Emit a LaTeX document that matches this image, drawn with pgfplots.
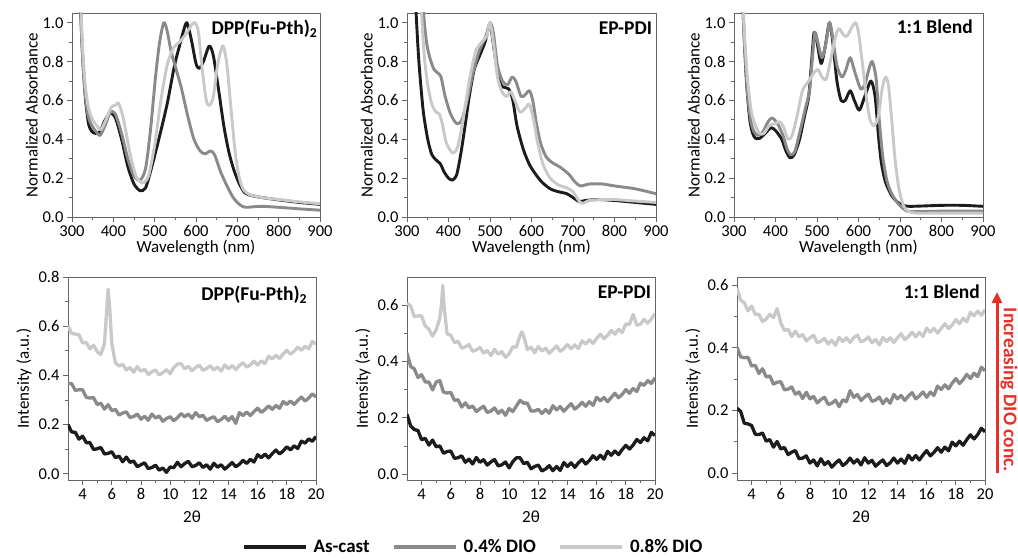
\documentclass[border=0pt]{standalone}
\usepackage{fontspec}
\setmainfont{Carlito}
\usepackage{pgfplots}
\pgfplotsset{compat=1.18}
\usetikzlibrary{arrows.meta}

\definecolor{ascast}{HTML}{1C1C1C}
\definecolor{dioA}{HTML}{8A8A8A}
\definecolor{dioB}{HTML}{C9C9C9}
\definecolor{arrowred}{HTML}{E8302A}

\newcommand{\tickfont}{\fontsize{16.5}{19}\selectfont}
\newcommand{\labfont}{\fontsize{17}{20}\selectfont}
\newcommand{\titfont}{\bfseries\fontsize{19.5}{22}\selectfont}

\pgfplotsset{
  panel/.style={
    scale only axis,
    anchor=south west,
    axis line style={draw=black!60, line width=0.9pt},
    tick align=outside,
    tick pos=left,
    major tick length=5pt,
    minor tick length=3pt,
    every tick/.style={draw=black!60, line width=0.8pt},
    minor x tick num=1,
    minor y tick num=1,
    tick label style={font=\tickfont},
    label style={font=\labfont},
    /pgf/number format/assume math mode=true,
    yticklabel style={/pgf/number format/.cd, fixed, fixed zerofill, precision=1},
    no markers,
    every axis plot/.append style={line join=round},
  },
  uv/.style={
    panel,
    width=248pt, height=204pt,
    xmin=300, xmax=900, ymin=0, ymax=1.05,
    xtick={300,400,...,900},
    ytick={0,0.2,...,1.0},
    xlabel={Wavelength (nm)},
    ylabel={Normalized Absorbance},
    xlabel style={yshift=4pt},
    ylabel style={yshift=-2pt},
    xticklabel style={/pgf/number format/.cd, fixed, precision=0, 1000 sep={}},
    every axis plot/.append style={line width=2.9pt, smooth, tension=0.45},
  },
  xrd/.style={
    panel,
    width=248pt, height=203pt,
    xmin=3, xmax=20,
    xtick={4,6,...,20},
    xlabel={2θ},
    ylabel={Intensity (a.u.)},
    xlabel style={yshift=-4pt},
    xticklabel style={/pgf/number format/.cd, fixed, precision=0},
    every axis plot/.append style={line width=3.3pt},
  },
}

\begin{document}
\begin{tikzpicture}
\useasboundingbox (0pt,0pt) rectangle (1018pt,558pt);

% ---------------- UV-vis: DPP(Fu-Pth)2 ----------------
\begin{axis}[uv, at={(72pt,341pt)}]
\addplot[ascast] coordinates {(318,1.3) (322,1.0) (327,0.78) (333,0.6) (340,0.48) (348,0.44) (358,0.43) (368,0.44) (378,0.49) (392,0.535) (405,0.51) (420,0.4) (435,0.26) (450,0.17) (465,0.135) (478,0.15) (492,0.25) (510,0.4) (530,0.58) (548,0.78) (560,0.88) (570,0.96) (578,1.0) (588,0.92) (600,0.79) (608,0.765) (618,0.8) (632,0.88) (642,0.83) (655,0.65) (668,0.46) (680,0.33) (692,0.24) (705,0.17) (718,0.125) (735,0.11) (760,0.1) (800,0.088) (850,0.075) (900,0.065)};
\addplot[dioA] coordinates {(318,1.3) (324,0.9) (330,0.68) (338,0.53) (348,0.47) (358,0.44) (368,0.42) (380,0.47) (393,0.54) (405,0.53) (420,0.43) (435,0.3) (450,0.21) (465,0.19) (478,0.25) (490,0.45) (502,0.72) (512,0.9) (522,1.0) (530,0.96) (540,0.85) (552,0.76) (565,0.66) (580,0.52) (595,0.4) (610,0.34) (622,0.325) (635,0.34) (645,0.32) (660,0.23) (675,0.16) (690,0.1) (705,0.065) (718,0.05) (735,0.052) (760,0.055) (800,0.05) (850,0.042) (900,0.035)};
\addplot[dioB] coordinates {(318,1.3) (325,0.9) (332,0.68) (340,0.56) (350,0.5) (360,0.47) (370,0.45) (382,0.5) (395,0.565) (405,0.575) (413,0.585) (425,0.5) (440,0.33) (455,0.21) (470,0.175) (485,0.21) (500,0.37) (515,0.6) (530,0.78) (545,0.87) (560,0.9) (575,0.94) (590,0.99) (598,1.0) (606,0.95) (615,0.76) (625,0.6) (633,0.575) (642,0.62) (652,0.78) (662,0.87) (667,0.875) (675,0.78) (685,0.55) (695,0.33) (705,0.2) (715,0.14) (730,0.115) (760,0.1) (800,0.09) (850,0.078) (900,0.068)};
\node[anchor=north east, inner sep=0pt, font=\titfont] at (rel axis cs:0.99,0.965) {DPP(Fu-Pth)\textsubscript{2}};
\end{axis}

% ---------------- UV-vis: EP-PDI ----------------
\begin{axis}[uv, at={(407pt,341pt)}, width=249pt]
\addplot[ascast] coordinates {(318,1.3) (322,1.05) (328,0.82) (334,0.66) (340,0.53) (350,0.4) (360,0.32) (372,0.29) (380,0.275) (390,0.23) (400,0.2) (410,0.19) (420,0.22) (430,0.33) (440,0.47) (450,0.62) (462,0.76) (475,0.83) (488,0.9) (500,0.99) (510,0.86) (520,0.72) (530,0.67) (545,0.66) (555,0.6) (565,0.47) (580,0.35) (595,0.27) (610,0.22) (625,0.18) (645,0.145) (665,0.13) (685,0.12) (700,0.1) (715,0.08) (730,0.085) (760,0.09) (800,0.085) (850,0.075) (900,0.065)};
\addplot[dioA] coordinates {(335,1.3) (340,1.05) (347,0.9) (355,0.82) (365,0.76) (375,0.74) (382,0.72) (392,0.62) (405,0.53) (420,0.48) (432,0.5) (445,0.6) (460,0.75) (475,0.86) (490,0.93) (500,1.0) (508,0.95) (518,0.78) (530,0.7) (542,0.68) (553,0.72) (562,0.7) (575,0.62) (585,0.63) (595,0.65) (603,0.6) (612,0.48) (622,0.38) (635,0.31) (650,0.28) (670,0.255) (690,0.22) (705,0.18) (718,0.16) (740,0.17) (770,0.17) (800,0.16) (850,0.145) (900,0.12)};
\addplot[dioB] coordinates {(330,1.3) (335,1.05) (342,0.82) (350,0.68) (360,0.58) (370,0.54) (378,0.53) (385,0.48) (395,0.38) (410,0.33) (422,0.36) (435,0.5) (450,0.7) (465,0.85) (480,0.9) (492,0.93) (500,1.0) (508,0.9) (518,0.72) (530,0.64) (540,0.62) (550,0.645) (560,0.6) (572,0.54) (585,0.56) (595,0.58) (605,0.5) (615,0.38) (628,0.27) (645,0.2) (665,0.165) (685,0.15) (700,0.13) (712,0.09) (722,0.07) (740,0.085) (770,0.09) (800,0.09) (850,0.082) (900,0.075)};
\node[anchor=north east, inner sep=0pt, font=\titfont] at (rel axis cs:0.985,0.96) {EP-PDI};
\end{axis}

% ---------------- UV-vis: 1:1 Blend ----------------
\begin{axis}[uv, at={(734pt,341pt)}, width=249pt]
\addplot[ascast] coordinates {(318,1.3) (323,1.0) (330,0.7) (338,0.5) (345,0.43) (352,0.405) (362,0.405) (375,0.43) (390,0.46) (402,0.44) (415,0.4) (425,0.34) (435,0.305) (445,0.32) (458,0.4) (470,0.52) (480,0.62) (487,0.8) (493,0.95) (500,0.9) (510,0.79) (520,0.88) (530,1.0) (538,0.9) (548,0.7) (558,0.6) (568,0.6) (580,0.65) (590,0.6) (602,0.55) (615,0.62) (630,0.7) (640,0.62) (648,0.42) (655,0.28) (665,0.18) (680,0.11) (695,0.075) (710,0.058) (730,0.055) (800,0.06) (850,0.06) (900,0.055)};
\addplot[dioA] coordinates {(318,1.3) (324,0.95) (332,0.65) (340,0.5) (348,0.44) (358,0.42) (370,0.44) (382,0.49) (392,0.51) (405,0.48) (418,0.42) (428,0.35) (437,0.32) (447,0.34) (460,0.45) (472,0.56) (482,0.65) (489,0.82) (495,0.95) (502,0.9) (512,0.82) (522,0.9) (530,1.0) (538,0.92) (548,0.78) (560,0.72) (570,0.76) (580,0.82) (592,0.74) (605,0.66) (615,0.68) (625,0.76) (633,0.8) (642,0.72) (650,0.5) (658,0.32) (668,0.19) (680,0.12) (695,0.07) (710,0.04) (725,0.028) (800,0.03) (900,0.03)};
\addplot[dioB] coordinates {(318,1.3) (325,0.95) (333,0.7) (342,0.54) (352,0.47) (362,0.43) (372,0.43) (385,0.47) (398,0.48) (410,0.49) (420,0.46) (430,0.4) (440,0.42) (452,0.52) (465,0.65) (480,0.7) (492,0.74) (502,0.76) (512,0.72) (522,0.71) (532,0.8) (545,0.93) (553,0.97) (563,0.94) (572,0.93) (585,0.98) (593,1.0) (600,0.95) (610,0.78) (620,0.6) (628,0.5) (638,0.47) (648,0.52) (657,0.66) (665,0.72) (672,0.68) (680,0.5) (688,0.3) (697,0.15) (708,0.06) (720,0.03) (740,0.02) (800,0.02) (900,0.02)};
\node[anchor=north east, inner sep=0pt, font=\titfont] at (rel axis cs:0.96,0.97) {1:1 Blend};
\end{axis}

% ---------------- XRD: DPP(Fu-Pth)2 ----------------
\begin{axis}[xrd, at={(68pt,78pt)}, ymin=-0.025, ymax=0.8, ytick={0,0.2,...,0.8}]
\addplot[ascast] coordinates {(3.00,0.200) (3.25,0.170) (3.50,0.169) (3.75,0.141) (4.00,0.153) (4.25,0.127) (4.50,0.127) (4.75,0.099) (5.00,0.102) (5.25,0.107) (5.50,0.081) (5.75,0.083) (6.00,0.090) (6.25,0.066) (6.50,0.072) (6.75,0.049) (7.00,0.068) (7.25,0.047) (7.50,0.052) (7.75,0.029) (8.00,0.037) (8.25,0.045) (8.50,0.021) (8.75,0.026) (9.00,0.035) (9.25,0.015) (9.50,0.024) (9.75,0.006) (10.00,0.028) (10.25,0.025) (10.50,0.047) (10.75,0.029) (11.00,0.042) (11.25,0.051) (11.50,0.029) (11.75,0.034) (12.00,0.045) (12.25,0.026) (12.50,0.037) (12.75,0.019) (13.00,0.043) (13.25,0.027) (13.50,0.037) (13.75,0.019) (14.00,0.032) (14.25,0.046) (14.50,0.029) (14.75,0.039) (15.00,0.055) (15.25,0.042) (15.50,0.059) (15.75,0.048) (16.00,0.078) (16.25,0.066) (16.50,0.080) (16.75,0.065) (17.00,0.082) (17.25,0.097) (17.50,0.081) (17.75,0.093) (18.00,0.110) (18.25,0.097) (18.50,0.114) (18.75,0.103) (19.00,0.133) (19.25,0.125) (19.50,0.142) (19.75,0.132) (20.00,0.152)};
\addplot[dioA] coordinates {(3.00,0.367) (3.25,0.367) (3.50,0.339) (3.75,0.342) (4.00,0.342) (4.25,0.311) (4.50,0.308) (4.75,0.310) (5.00,0.282) (5.25,0.287) (5.50,0.263) (5.75,0.281) (6.00,0.257) (6.25,0.262) (6.50,0.239) (6.75,0.247) (7.00,0.252) (7.25,0.229) (7.50,0.233) (7.75,0.243) (8.00,0.222) (8.25,0.234) (8.50,0.218) (8.75,0.243) (9.00,0.227) (9.25,0.235) (9.50,0.214) (9.75,0.225) (10.00,0.232) (10.25,0.216) (10.50,0.228) (10.75,0.245) (11.00,0.232) (11.25,0.243) (11.50,0.226) (11.75,0.249) (12.00,0.232) (12.25,0.238) (12.50,0.217) (12.75,0.226) (13.00,0.232) (13.25,0.212) (13.50,0.221) (13.75,0.234) (14.00,0.217) (14.25,0.233) (14.50,0.205) (14.75,0.249) (15.00,0.237) (15.25,0.251) (15.50,0.237) (15.75,0.253) (16.00,0.267) (16.25,0.250) (16.50,0.261) (16.75,0.276) (17.00,0.262) (17.25,0.278) (17.50,0.266) (17.75,0.294) (18.00,0.282) (18.25,0.296) (18.50,0.282) (18.75,0.298) (19.00,0.312) (19.25,0.296) (19.50,0.308) (19.75,0.325) (20.00,0.312)};
\addplot[dioB] coordinates {(3.00,0.602) (3.25,0.571) (3.50,0.568) (3.75,0.565) (4.00,0.532) (4.25,0.534) (4.50,0.508) (4.75,0.523) (5.00,0.497) (5.25,0.485) (5.50,0.530) (5.625,0.640) (5.75,0.750) (5.875,0.660) (6.00,0.530) (6.25,0.451) (6.50,0.438) (6.75,0.445) (7.00,0.422) (7.25,0.432) (7.50,0.413) (7.75,0.436) (8.00,0.417) (8.25,0.425) (8.50,0.404) (8.75,0.415) (9.00,0.422) (9.25,0.402) (9.50,0.411) (9.75,0.424) (10.00,0.407) (10.25,0.432) (10.50,0.446) (10.75,0.448) (11.00,0.427) (11.25,0.437) (11.50,0.419) (11.75,0.432) (12.00,0.442) (12.25,0.421) (12.50,0.428) (12.75,0.440) (13.00,0.422) (13.25,0.434) (13.50,0.418) (13.75,0.443) (14.00,0.427) (14.25,0.440) (14.50,0.424) (14.75,0.440) (15.00,0.452) (15.25,0.434) (15.50,0.443) (15.75,0.458) (16.00,0.442) (16.25,0.459) (16.50,0.448) (16.75,0.478) (17.00,0.467) (17.25,0.482) (17.50,0.469) (17.75,0.487) (18.00,0.502) (18.25,0.486) (18.50,0.498) (18.75,0.515) (19.00,0.502) (19.25,0.519) (19.50,0.508) (19.75,0.538) (20.00,0.527)};
\node[anchor=north east, inner sep=0pt, font=\titfont] at (rel axis cs:0.965,0.955) {DPP(Fu-Pth)\textsubscript{2}};
\end{axis}

% ---------------- XRD: EP-PDI ----------------
\begin{axis}[xrd, at={(407pt,78pt)}, ymin=-0.021, ymax=0.70, ytick={0,0.2,...,0.6},
  legend style={at={(0.266,-0.33)}, anchor=center, draw=none, fill=none,
    legend columns=3, font=\bfseries\fontsize{19}{22}\selectfont,
    /tikz/every odd column/.append style={column sep=4pt},
    /tikz/every even column/.append style={column sep=20pt}},
  legend image code/.code={\draw[#1, line width=4pt] (0pt,0pt) -- (62pt,0pt);}]
\addplot[ascast] coordinates {(3.00,0.212) (3.25,0.171) (3.50,0.158) (3.75,0.155) (4.00,0.122) (4.25,0.127) (4.50,0.103) (4.75,0.121) (5.00,0.097) (5.25,0.100) (5.50,0.074) (5.75,0.080) (6.00,0.082) (6.25,0.056) (6.50,0.058) (6.75,0.065) (7.00,0.042) (7.25,0.053) (7.50,0.036) (7.75,0.059) (8.00,0.042) (8.25,0.051) (8.50,0.032) (8.75,0.043) (9.00,0.052) (9.25,0.029) (9.50,0.033) (9.75,0.043) (10.00,0.022) (10.25,0.044) (10.50,0.058) (10.75,0.058) (11.00,0.037) (11.25,0.042) (11.50,0.019) (11.75,0.027) (12.00,0.032) (12.25,0.011) (12.50,0.018) (12.75,0.030) (13.00,0.012) (13.25,0.027) (13.50,0.013) (13.75,0.041) (14.00,0.027) (14.25,0.040) (14.50,0.024) (14.75,0.040) (15.00,0.052) (15.25,0.036) (15.50,0.048) (15.75,0.065) (16.00,0.052) (16.25,0.067) (16.50,0.053) (16.75,0.081) (17.00,0.067) (17.25,0.082) (17.50,0.069) (17.75,0.087) (18.00,0.102) (18.25,0.089) (18.50,0.103) (18.75,0.123) (19.00,0.112) (19.25,0.129) (19.50,0.118) (19.75,0.148) (20.00,0.137)};
\addlegendentry{As-cast}
\addplot[dioA] coordinates {(3.00,0.430) (3.25,0.382) (3.50,0.374) (3.75,0.343) (4.00,0.353) (4.25,0.327) (4.50,0.327) (4.75,0.299) (5.00,0.327) (5.25,0.332) (5.50,0.291) (5.75,0.288) (6.00,0.290) (6.25,0.262) (6.50,0.264) (6.75,0.238) (7.00,0.253) (7.25,0.235) (7.50,0.242) (7.75,0.222) (8.00,0.232) (8.25,0.241) (8.50,0.219) (8.75,0.224) (9.00,0.235) (9.25,0.216) (9.50,0.227) (9.75,0.209) (10.00,0.233) (10.25,0.222) (10.50,0.242) (10.75,0.262) (11.00,0.252) (11.25,0.252) (11.50,0.224) (11.75,0.224) (12.00,0.230) (12.25,0.215) (12.50,0.229) (12.75,0.216) (13.00,0.243) (13.25,0.228) (13.50,0.240) (13.75,0.223) (14.00,0.237) (14.25,0.250) (14.50,0.231) (14.75,0.241) (15.00,0.255) (15.25,0.241) (15.50,0.257) (15.75,0.244) (16.00,0.273) (16.25,0.260) (16.50,0.272) (16.75,0.257) (17.00,0.272) (17.25,0.287) (17.50,0.271) (17.75,0.283) (18.00,0.300) (18.25,0.287) (18.50,0.304) (18.75,0.293) (19.00,0.323) (19.25,0.315) (19.50,0.332) (19.75,0.322) (20.00,0.342)};
\addlegendentry{0.4\% DIO}
\addplot[dioB] coordinates {(3.00,0.607) (3.25,0.597) (3.50,0.559) (3.75,0.562) (4.00,0.562) (4.25,0.526) (4.50,0.515) (4.75,0.490) (5.00,0.512) (5.25,0.554) (5.375,0.610) (5.45,0.670) (5.55,0.590) (5.75,0.498) (6.00,0.493) (6.25,0.467) (6.50,0.472) (6.75,0.447) (7.00,0.452) (7.25,0.460) (7.50,0.436) (7.75,0.441) (8.00,0.450) (8.25,0.430) (8.50,0.439) (8.75,0.421) (9.00,0.443) (9.25,0.426) (9.50,0.435) (9.75,0.415) (10.00,0.427) (10.25,0.452) (10.50,0.451) (10.75,0.493) (10.875,0.505) (11.00,0.490) (11.25,0.442) (11.50,0.451) (11.75,0.431) (12.00,0.453) (12.25,0.437) (12.50,0.447) (12.75,0.429) (13.00,0.442) (13.25,0.455) (13.50,0.436) (13.75,0.446) (14.00,0.460) (14.25,0.445) (14.50,0.459) (14.75,0.446) (15.00,0.473) (15.25,0.462) (15.50,0.477) (15.75,0.464) (16.00,0.482) (16.25,0.497) (16.50,0.481) (16.75,0.493) (17.00,0.510) (17.25,0.497) (17.50,0.514) (17.75,0.503) (18.00,0.533) (18.25,0.532) (18.50,0.567) (18.75,0.529) (19.00,0.532) (19.25,0.550) (19.50,0.536) (19.75,0.551) (20.00,0.570)};
\addlegendentry{0.8\% DIO}
\node[anchor=north east, inner sep=0pt, font=\titfont] at (rel axis cs:0.985,0.955) {EP-PDI};
\end{axis}

% ---------------- XRD: 1:1 Blend ----------------
\begin{axis}[xrd, at={(737pt,78pt)}, ymin=-0.022, ymax=0.626, ytick={0,0.2,...,0.6}]
\addplot[ascast] coordinates {(3.00,0.207) (3.25,0.197) (3.50,0.159) (3.75,0.157) (4.00,0.152) (4.25,0.124) (4.50,0.123) (4.75,0.128) (5.00,0.102) (5.25,0.107) (5.50,0.083) (5.75,0.101) (6.00,0.077) (6.25,0.082) (6.50,0.059) (6.75,0.067) (7.00,0.072) (7.25,0.046) (7.50,0.048) (7.75,0.055) (8.00,0.032) (8.25,0.042) (8.50,0.023) (8.75,0.046) (9.00,0.027) (9.25,0.037) (9.50,0.019) (9.75,0.032) (10.00,0.042) (10.25,0.024) (10.50,0.033) (10.75,0.048) (11.00,0.032) (11.25,0.043) (11.50,0.026) (11.75,0.049) (12.00,0.032) (12.25,0.041) (12.50,0.022) (12.75,0.033) (13.00,0.042) (13.25,0.024) (13.50,0.033) (13.75,0.048) (14.00,0.032) (14.25,0.045) (14.50,0.031) (14.75,0.057) (15.00,0.042) (15.25,0.056) (15.50,0.042) (15.75,0.058) (16.00,0.072) (16.25,0.055) (16.50,0.066) (16.75,0.081) (17.00,0.067) (17.25,0.083) (17.50,0.071) (17.75,0.099) (18.00,0.087) (18.25,0.102) (18.50,0.089) (18.75,0.107) (19.00,0.122) (19.25,0.109) (19.50,0.123) (19.75,0.143) (20.00,0.132)};
\addplot[dioA] coordinates {(3.00,0.402) (3.25,0.371) (3.50,0.368) (3.75,0.370) (4.00,0.342) (4.25,0.344) (4.50,0.318) (4.75,0.333) (5.00,0.307) (5.25,0.310) (5.50,0.284) (5.75,0.290) (6.00,0.292) (6.25,0.266) (6.50,0.268) (6.75,0.275) (7.00,0.252) (7.25,0.259) (7.50,0.238) (7.75,0.258) (8.00,0.237) (8.25,0.245) (8.50,0.224) (8.75,0.235) (9.00,0.242) (9.25,0.219) (9.50,0.223) (9.75,0.233) (10.00,0.212) (10.25,0.234) (10.50,0.228) (10.75,0.263) (11.00,0.242) (11.25,0.251) (11.50,0.232) (11.75,0.243) (12.00,0.252) (12.25,0.229) (12.50,0.233) (12.75,0.243) (13.00,0.222) (13.25,0.237) (13.50,0.223) (13.75,0.251) (14.00,0.237) (14.25,0.248) (14.50,0.232) (14.75,0.246) (15.00,0.257) (15.25,0.237) (15.50,0.246) (15.75,0.259) (16.00,0.242) (16.25,0.259) (16.50,0.248) (16.75,0.278) (17.00,0.267) (17.25,0.282) (17.50,0.269) (17.75,0.287) (18.00,0.302) (18.25,0.286) (18.50,0.298) (18.75,0.315) (19.00,0.302) (19.25,0.319) (19.50,0.308) (19.75,0.338) (20.00,0.327)};
\addplot[dioB] coordinates {(3.00,0.590) (3.25,0.552) (3.50,0.544) (3.75,0.518) (4.00,0.533) (4.25,0.507) (4.50,0.507) (4.75,0.484) (5.00,0.492) (5.25,0.507) (5.50,0.496) (5.75,0.525) (6.00,0.480) (6.25,0.455) (6.50,0.459) (6.75,0.436) (7.00,0.453) (7.25,0.435) (7.50,0.442) (7.75,0.422) (8.00,0.432) (8.25,0.440) (8.50,0.416) (8.75,0.421) (9.00,0.430) (9.25,0.412) (9.50,0.424) (9.75,0.408) (10.00,0.433) (10.25,0.420) (10.50,0.432) (10.75,0.417) (11.00,0.432) (11.25,0.441) (11.50,0.419) (11.75,0.424) (12.00,0.435) (12.25,0.416) (12.50,0.427) (12.75,0.409) (13.00,0.433) (13.25,0.420) (13.50,0.432) (13.75,0.417) (14.00,0.432) (14.25,0.445) (14.50,0.426) (14.75,0.436) (15.00,0.450) (15.25,0.435) (15.50,0.449) (15.75,0.436) (16.00,0.463) (16.25,0.450) (16.50,0.462) (16.75,0.447) (17.00,0.462) (17.25,0.477) (17.50,0.461) (17.75,0.473) (18.00,0.490) (18.25,0.477) (18.50,0.494) (18.75,0.483) (19.00,0.513) (19.25,0.502) (19.50,0.517) (19.75,0.504) (20.00,0.522)};
\node[anchor=north east, inner sep=0pt, font=\titfont] at (rel axis cs:0.98,0.96) {1:1 Blend};
\end{axis}

% arrow and note on the right
\draw[arrowred, line width=3pt, -{Triangle[length=11pt, width=10pt]}] (997pt,85pt) -- (997pt,266pt);
\node[rotate=-90, text=arrowred, font=\bfseries\fontsize{19.5}{22}\selectfont, inner sep=0pt] at (1009pt,168pt) {Increasing DIO conc.};
\end{tikzpicture}
\end{document}
